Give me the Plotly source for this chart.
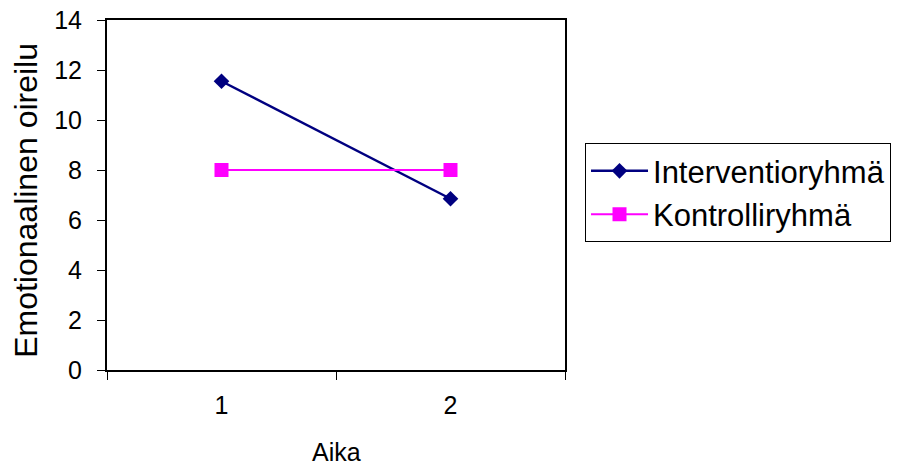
import plotly.graph_objects as go

categories = ["1", "2"]
interventio = [11.55, 6.85]
kontrolli = [8.0, 8.0]
y_ticks = [0, 2, 4, 6, 8, 10, 12, 14]

fig = go.Figure()
fig.add_trace(go.Scatter(
    x=categories, y=interventio, name="Interventioryhmä", mode="lines+markers",
    line=dict(color="#000080", width=2.5),
    marker=dict(symbol="diamond", size=12, color="#000080"),
))
fig.add_trace(go.Scatter(
    x=categories, y=kontrolli, name="Kontrolliryhmä", mode="lines+markers",
    line=dict(color="#FF00FF", width=2),
    marker=dict(symbol="square", size=14, color="#FF00FF"),
))

font = "Liberation Sans, Arial, sans-serif"
fig.update_layout(
    width=901, height=469,
    margin=dict(l=107, r=336, t=20, b=99, autoexpand=False),
    paper_bgcolor="white", plot_bgcolor="white",
    font=dict(family=font, color="black"),
    showlegend=True,
    legend=dict(
        x=1.0437, y=0.648, xanchor="left", yanchor="top",
        bordercolor="black", borderwidth=1,
        font=dict(size=31, family=font),
        tracegroupgap=0, itemwidth=57,
    ),
    xaxis=dict(
        type="category", range=[-0.5, 1.5], automargin=False,
        tickson="boundaries", ticks="outside", ticklen=8, tickcolor="black",
        showline=True, linecolor="black", linewidth=2, mirror=True,
        showgrid=False, zeroline=False,
        tickfont=dict(size=25), ticklabelstandoff=12,
    ),
    yaxis=dict(
        range=[0, 14], tickvals=y_ticks, ticks="outside", ticklen=8, tickcolor="black",
        automargin=False,
        showline=True, linecolor="black", linewidth=2, mirror=True,
        showgrid=False, zeroline=False,
        tickfont=dict(size=25), ticklabelstandoff=10,
    ),
    annotations=[
        dict(text="Emotionaalinen oireilu", textangle=-90, showarrow=False,
             xref="paper", yref="paper", x=-0.177, y=0.486,
             xanchor="center", yanchor="middle", font=dict(size=32, family=font)),
        dict(text="Aika", showarrow=False,
             xref="paper", yref="paper", x=0.5, y=-0.234,
             xanchor="center", yanchor="middle", font=dict(size=25, family=font)),
    ],
)

fig.write_html("out.html")
